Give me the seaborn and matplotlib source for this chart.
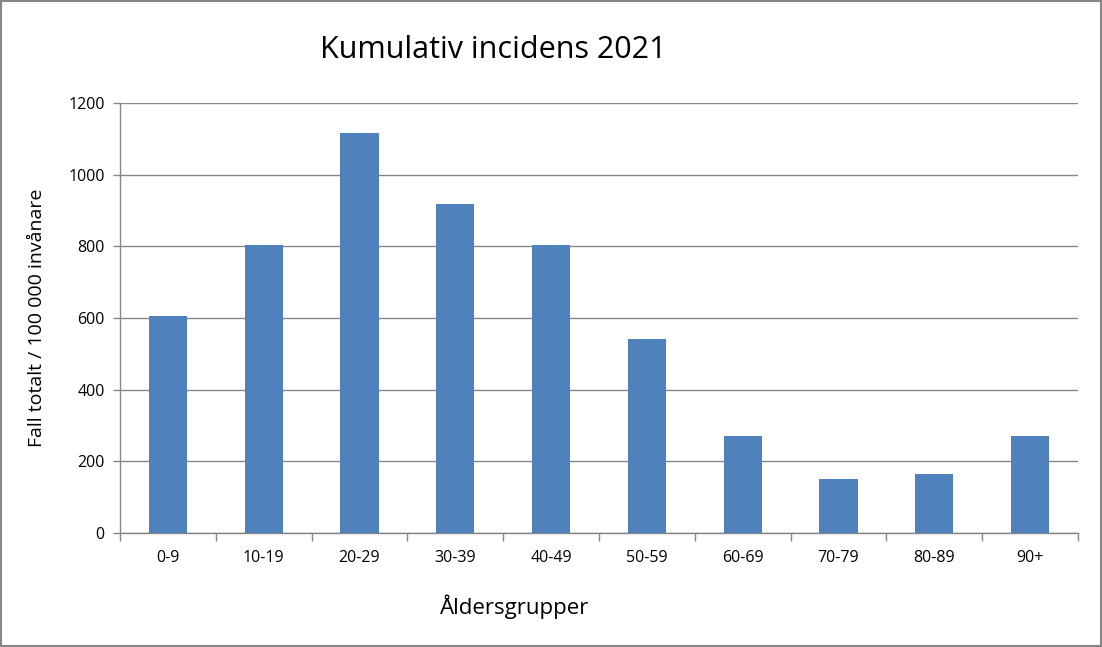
import matplotlib
matplotlib.use("Agg")
import matplotlib.pyplot as plt
import seaborn as sns
import pandas as pd

# Данные
age_groups = ['0-9', '10-19', '20-29', '30-39', '40-49', '50-59', '60-69', '70-79', '80-89', '90+']
incidence = [606, 805, 1117, 919, 805, 542, 272, 152, 166, 272]

df = pd.DataFrame({'group': age_groups, 'value': incidence})

sns.set_style("white")
plt.rcParams['font.family'] = ['Open Sans', 'DejaVu Sans']
plt.rcParams['text.color'] = 'black'
plt.rcParams['xtick.color'] = 'black'
plt.rcParams['ytick.color'] = 'black'
plt.rcParams['axes.labelcolor'] = 'black'

grid_color = '#868686'

fig = plt.figure(figsize=(11.02, 6.47), dpi=100)
ax = fig.add_axes([120 / 1102, 1 - 533 / 647, (1078 - 120) / 1102, (533 - 103) / 647])

sns.barplot(data=df, x='group', y='value', color='#4F81BD', width=0.4,
            saturation=1, linewidth=0, ax=ax, zorder=3)

ax.set_ylim(0, 1200)
ax.set_xlim(-0.5, len(age_groups) - 0.5)
ax.set_yticks(range(0, 1201, 200))
ax.yaxis.grid(True, color=grid_color, linewidth=1)
ax.set_axisbelow(True)

for s in ['top', 'right']:
    ax.spines[s].set_visible(False)
for s in ['left', 'bottom']:
    ax.spines[s].set_color(grid_color)
    ax.spines[s].set_linewidth(1)

# засечки между категориями, как в Excel
ax.set_xticks([i - 0.5 for i in range(len(age_groups) + 1)], minor=True)
ax.tick_params(axis='x', which='minor', bottom=True, length=6, width=1,
               color=grid_color, direction='out')
ax.tick_params(axis='x', which='major', bottom=False, length=0, labelsize=11.5, pad=12)
ax.tick_params(axis='y', left=True, length=5, width=1, color=grid_color,
               direction='out', labelsize=11.5, pad=6)

ax.set_xlabel('')
ax.set_ylabel('Fall totalt / 100 000 invånare', fontsize=14, labelpad=16)

fig.text(515 / 1102, 1 - 607 / 647, 'Åldersgrupper', fontsize=16,
         ha='center', va='center')
fig.text(493 / 1102, 1 - 50 / 647, 'Kumulativ incidens 2021', fontsize=22,
         ha='center', va='center')

# рамка вокруг диаграммы
fig.patches.append(plt.Rectangle((0.001, 0.001), 0.998, 0.997, transform=fig.transFigure,
                                 fill=False, edgecolor=grid_color, linewidth=1.5))

fig.savefig('out.png', dpi=100)
